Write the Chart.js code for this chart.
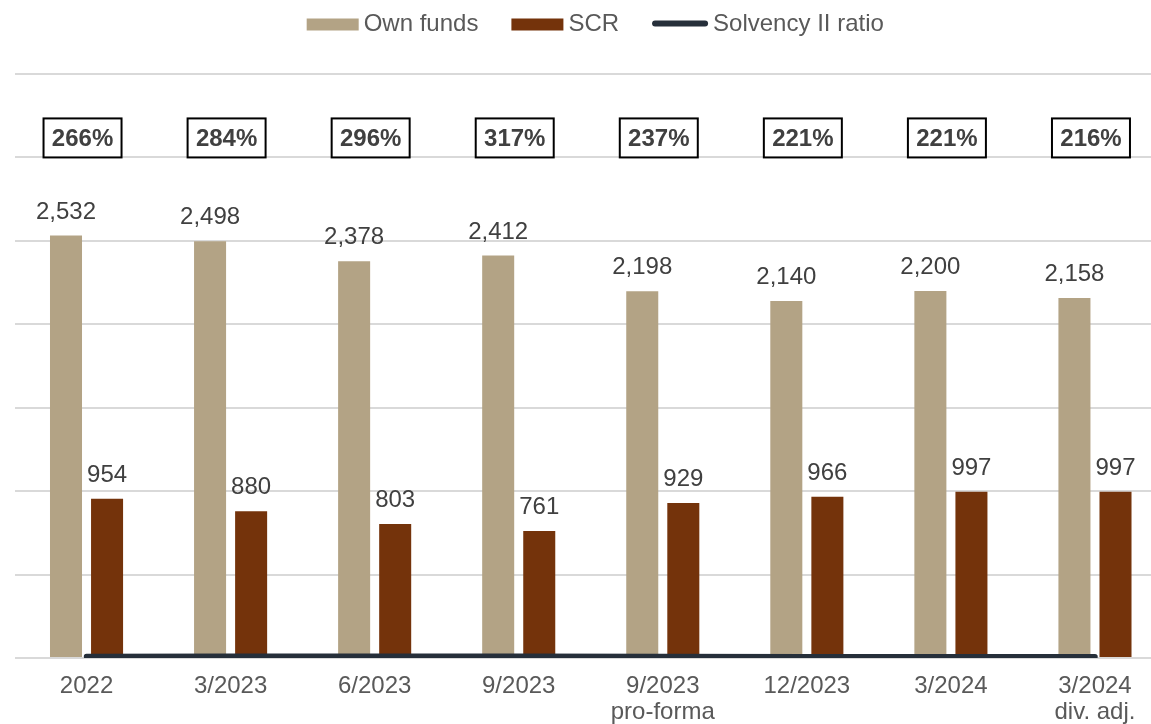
<!DOCTYPE html>
<html>
<head>
<meta charset="utf-8">
<script src="https://cdn.jsdelivr.net/npm/chart.js@4.4.1/dist/chart.umd.min.js"></script>
<style>
  html, body { margin: 0; padding: 0; background: #fff; overflow: hidden; }
  #wrap { width: 1167px; height: 724px; }
</style>
</head>
<body>
<div id="wrap"><canvas id="solvency-chart"></canvas></div>
<script>
const periods = [
  ["2022"],
  ["3/2023"],
  ["6/2023"],
  ["9/2023"],
  ["9/2023", "pro-forma"],
  ["12/2023"],
  ["3/2024"],
  ["3/2024", "div. adj."],
];
const ownFunds = [2532, 2498, 2378, 2412, 2198, 2140, 2200, 2158];
const scr = [954, 880, 803, 761, 929, 966, 997, 997];
const solvencyRatio = [266, 284, 296, 317, 237, 221, 221, 216];

const yMin = 0;
const yMax = 3500;
const yStep = 500;

const tan = "#b3a385";
const brown = "#74330b";
const navy = "#262f3a";
const gridGray = "#d9d9d9";
const textGray = "#595959";
const darkText = "#404040";
const fontFamily = '"Liberation Sans", Arial, sans-serif';

Chart.defaults.font.family = fontFamily;
Chart.defaults.font.size = 24;
Chart.defaults.color = textGray;

// numbers above the bars
const valueLabels = {
  id: "valueLabels",
  afterDatasetsDraw(chart) {
    const ctx = chart.ctx;
    ctx.save();
    ctx.font = `24px ${fontFamily}`;
    ctx.fillStyle = darkText;
    ctx.textAlign = "center";
    ctx.textBaseline = "alphabetic";
    chart.data.datasets.forEach((ds, i) => {
      if (ds.type !== "bar") return;
      chart.getDatasetMeta(i).data.forEach((bar, j) => {
        ctx.fillText(ds.data[j].toLocaleString("en-US"), bar.x, bar.y - 17);
      });
    });
    ctx.restore();
  },
};

// boxed ratio labels sitting on the 3000 gridline
const ratioBoxes = {
  id: "ratioBoxes",
  afterDraw(chart) {
    const ctx = chart.ctx;
    const x = chart.scales.x;
    const bottom = chart.scales.y.getPixelForValue(3000);
    const w = 78;
    const h = 39;
    ctx.save();
    solvencyRatio.forEach((v, i) => {
      const cx = x.getPixelForValue(i) - 4;
      ctx.fillStyle = "#fff";
      ctx.fillRect(cx - w / 2, bottom - h, w, h);
      ctx.strokeStyle = "#000";
      ctx.lineWidth = 2;
      ctx.strokeRect(cx - w / 2, bottom - h, w, h);
      ctx.font = `bold 24px ${fontFamily}`;
      ctx.fillStyle = darkText;
      ctx.textAlign = "center";
      ctx.textBaseline = "middle";
      ctx.fillText(v + "%", cx, bottom - h / 2 + 1);
    });
    ctx.restore();
  },
};

// legend drawn by hand to get the spacing right
const topLegend = {
  id: "topLegend",
  afterDraw(chart) {
    const ctx = chart.ctx;
    ctx.save();
    ctx.font = `24px ${fontFamily}`;
    const items = chart.data.datasets.map((ds) => ({
      label: ds.label,
      color: ds.type === "line" ? ds.borderColor : ds.backgroundColor,
      isLine: ds.type === "line",
    }));
    items.sort((a, b) => a.isLine - b.isLine);
    const markerW = (it) => (it.isLine ? 56 : 52);
    let total = 0;
    items.forEach((it, i) => {
      total += markerW(it) + 6 + ctx.measureText(it.label).width;
      if (i < items.length - 1) total += 33;
    });
    const area = chart.chartArea;
    let cx = (area.left + area.right) / 2 + 6 - total / 2;
    const cy = 24.5;
    items.forEach((it) => {
      const mw = markerW(it);
      if (it.isLine) {
        ctx.strokeStyle = it.color;
        ctx.lineWidth = 6;
        ctx.lineCap = "round";
        ctx.beginPath();
        ctx.moveTo(cx + 3, cy - 1);
        ctx.lineTo(cx + mw - 3, cy - 1);
        ctx.stroke();
      } else {
        ctx.fillStyle = it.color;
        ctx.fillRect(cx, cy - 6, mw, 12);
      }
      cx += mw + 5;
      ctx.fillStyle = textGray;
      ctx.textAlign = "left";
      ctx.textBaseline = "middle";
      ctx.fillText(it.label, cx, cy);
      cx += ctx.measureText(it.label).width + 33;
    });
    ctx.restore();
  },
};

new Chart(document.getElementById("solvency-chart"), {
  type: "bar",
  data: {
    labels: periods,
    datasets: [
      {
        type: "line",
        label: "Solvency II ratio",
        data: solvencyRatio,
        yAxisID: "y2",
        borderColor: navy,
        backgroundColor: navy,
        borderWidth: 5.5,
        borderCapStyle: "round",
        pointRadius: 0,
        order: -1,
      },
      {
        type: "bar",
        label: "Own funds",
        data: ownFunds,
        backgroundColor: tan,
        categoryPercentage: 0.57,
        barPercentage: 0.78,
      },
      {
        type: "bar",
        label: "SCR",
        data: scr,
        backgroundColor: brown,
        categoryPercentage: 0.57,
        barPercentage: 0.78,
      },
    ],
  },
  options: {
    responsive: true,
    maintainAspectRatio: false,
    animation: false,
    layout: {
      padding: { top: 74, left: 14.5, right: 0, bottom: 0 },
    },
    plugins: {
      legend: { display: false },
      tooltip: { enabled: false },
      title: { display: false },
    },
    scales: {
      x: {
        grid: { display: false, drawTicks: false },
        border: { display: false },
        ticks: {
          color: textGray,
          padding: 15,
          font: { size: 24, lineHeight: 1.1 },
          maxRotation: 0,
          autoSkip: false,
        },
        afterFit: (axis) => {
          axis.height = 66;
        },
      },
      y: {
        min: yMin,
        max: yMax,
        ticks: { display: false, stepSize: yStep },
        grid: { color: gridGray, lineWidth: 2, drawTicks: false },
        border: { display: false },
        afterFit: (axis) => {
          axis.width = 0;
        },
      },
      y2: {
        display: false,
        min: 0,
        max: 100000,
      },
    },
  },
  plugins: [valueLabels, ratioBoxes, topLegend],
});
</script>
</body>
</html>
